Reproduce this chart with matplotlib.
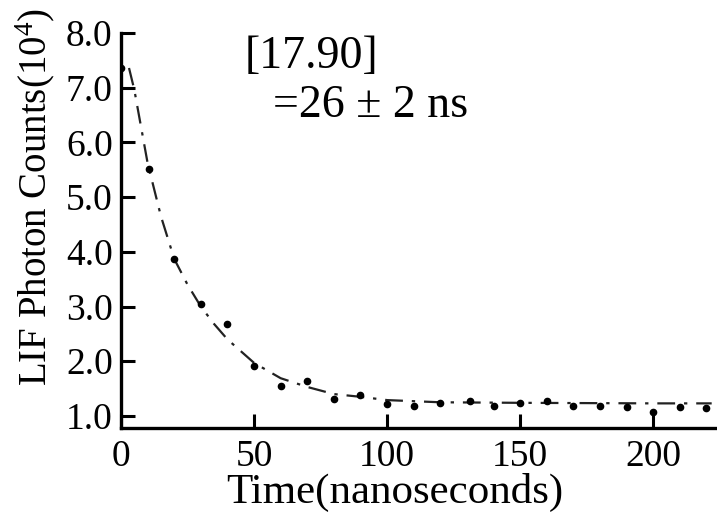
import matplotlib
matplotlib.use("Agg")
import matplotlib.pyplot as plt

plt.rcParams['font.family'] = ['Liberation Serif', 'DejaVu Serif']
plt.rcParams['mathtext.fontset'] = 'custom'
plt.rcParams['mathtext.rm'] = 'Liberation Serif'
plt.rcParams['mathtext.it'] = 'Liberation Serif:italic'

# measured data points (time in ns, counts in 1e4)
time_ns = [0, 10.5, 20, 30, 40, 50, 60, 70, 80, 90, 100, 110, 120, 131, 140, 150,
           160, 170, 180, 190, 200, 210, 220]
counts = [7.36, 5.51, 3.87, 3.05, 2.68, 1.91, 1.55, 1.64, 1.31, 1.38, 1.21, 1.19,
          1.23, 1.28, 1.18, 1.23, 1.27, 1.18, 1.18, 1.17, 1.07, 1.16, 1.15]

# fitted curve
fit_t = [3, 5, 10, 15, 20, 25, 30, 35, 40, 50, 60, 70, 80, 90, 100, 120, 150, 200, 222]
fit_y = [7.36, 6.96, 5.62, 4.65, 3.87, 3.40, 3.00, 2.68, 2.40, 1.97, 1.69, 1.53,
         1.40, 1.35, 1.29, 1.25, 1.24, 1.23, 1.23]

xticks = [0, 50, 100, 150, 200]
yticks = [1.0, 2.0, 3.0, 4.0, 5.0, 6.0, 7.0, 8.0]

fig = plt.figure(figsize=(7.17, 5.13), dpi=100)
ax = fig.add_axes([0.1688, 0.1657, 0.8312, 0.770])

ax.plot(fit_t, fit_y, color='#222222', linestyle=(0, (8, 4, 1.5, 4)), lw=1.6)
ax.plot(time_ns, counts, 'o', color='black', markersize=4.5)

ax.set_xlim(0, 224)
ax.set_ylim(0.78, 8.0)
ax.set_xticks(xticks)
ax.set_xticklabels([str(v) for v in xticks])
ax.set_yticks(yticks)
ax.set_yticklabels([f"{v:.1f}" for v in yticks])

for s in ['top', 'right']:
    ax.spines[s].set_visible(False)
for s in ['left', 'bottom']:
    ax.spines[s].set_linewidth(2.4)
ax.tick_params(direction='in', length=10, width=2.2, labelsize=27)
ax.tick_params(axis='y', pad=6)
ax.tick_params(axis='x', pad=8)

ax.set_xlabel('Time(nanoseconds)', fontsize=31)
ax.xaxis.set_label_coords(0.459, -0.190)
ax.xaxis.label.set_verticalalignment('baseline')
ax.set_ylabel('LIF Photon Counts(10$^4$)', fontsize=28)
ax.yaxis.set_label_coords(-0.108, 0.585)

ax.text(0.208, 0.911, '[17.90]', transform=ax.transAxes, fontsize=33, va='baseline', ha='left')
ax.text(0.255, 0.787, '=26 \u00b1 2 ns', transform=ax.transAxes, fontsize=33, va='baseline', ha='left')

fig.savefig('out.png', dpi=100)
